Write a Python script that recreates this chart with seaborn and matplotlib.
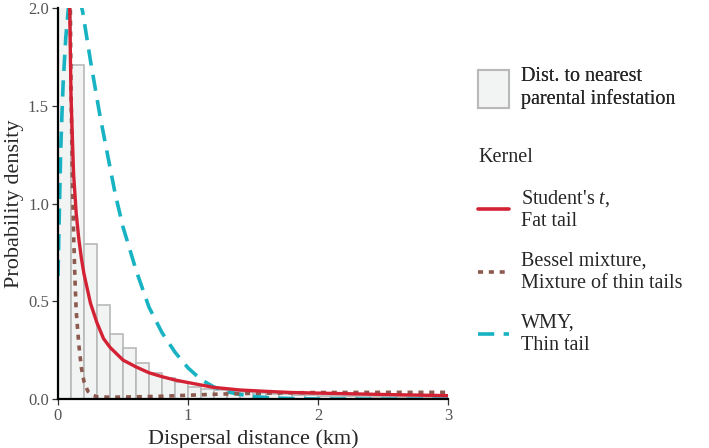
import numpy as np
import pandas as pd
import matplotlib
matplotlib.use("Agg")
import matplotlib.pyplot as plt
from matplotlib.lines import Line2D
from matplotlib.patches import Patch
import seaborn as sns

# Histogram: distance to nearest parental infestation (density per 0.1 km bin)
bin_edges = [round(0.1 * i, 1) for i in range(31)]
bin_heights = [5.3, 1.707, 0.794, 0.481, 0.332, 0.260, 0.183, 0.136, 0.106, 0.086,
               0.062, 0.052, 0.045, 0.040, 0.035, 0.031, 0.028, 0.025, 0.022, 0.020,
               0.018, 0.016, 0.015, 0.014, 0.013, 0.012, 0.011, 0.010, 0.009, 0.008]

# Kernel curves
t_x = [0.085, 0.09, 0.10, 0.12, 0.14, 0.16, 0.18, 0.20, 0.25, 0.30, 0.35, 0.40, 0.50,
       0.60, 0.70, 0.80, 0.90, 1.00, 1.20, 1.40, 1.60, 1.80, 2.00, 2.50, 3.00]
t_y = [2.4, 2.0, 1.55, 1.15, 0.95, 0.82, 0.72, 0.64, 0.49, 0.39, 0.31, 0.265, 0.20,
       0.165, 0.135, 0.115, 0.098, 0.085, 0.060, 0.047, 0.040, 0.034, 0.031, 0.024, 0.018]

bessel_x = [0.088, 0.095, 0.10, 0.11, 0.12, 0.13, 0.14, 0.16, 0.18, 0.20, 0.23, 0.27,
            0.30, 0.40, 0.60, 0.80, 1.00, 1.20, 1.50, 2.00, 2.50, 3.00]
bessel_y = [2.4, 2.0, 1.6, 1.15, 0.85, 0.62, 0.45, 0.28, 0.16, 0.09, 0.04, 0.02,
            0.012, 0.010, 0.012, 0.015, 0.020, 0.025, 0.030, 0.034, 0.035, 0.035]

wmy_x = [0.0, 0.01, 0.02, 0.03, 0.04, 0.06, 0.08, 0.10, 0.13, 0.16, 0.19, 0.25, 0.32,
         0.374, 0.44, 0.50, 0.554, 0.60, 0.70, 0.80, 0.90, 1.00, 1.10, 1.20, 1.30,
         1.40, 1.50, 1.60, 1.80, 2.00, 2.50, 3.00]
wmy_y = [0.63, 0.95, 1.25, 1.45, 1.62, 1.85, 2.0, 2.1, 2.12, 2.07, 1.98, 1.73, 1.46,
         1.274, 1.05, 0.88, 0.762, 0.66, 0.47, 0.34, 0.24, 0.16, 0.10, 0.062, 0.038,
         0.024, 0.015, 0.008, 0.003, 0.001, 0.0, 0.0]

kernel_labels = ["Student's $\\it{t}$,\nFat tail",
                 "Bessel mixture,\nMixture of thin tails",
                 "WMY,\nThin tail"]
hist_label = "Dist. to nearest\nparental infestation"

red = "#d42235"
brown = "#8c5a4f"
cyan = "#18b3c3"

sns.set_style("ticks")
plt.rcParams["font.family"] = ["Liberation Serif", "DejaVu Serif"]
plt.rcParams["mathtext.fontset"] = "custom"
plt.rcParams["mathtext.it"] = "Liberation Serif:italic"
plt.rcParams["mathtext.rm"] = "Liberation Serif"

fig = plt.figure(figsize=(7.09, 4.48), dpi=100)
ax = fig.add_axes([0.0818, 0.109, 0.632 - 0.0818, 0.873])

centers = [(bin_edges[i] + bin_edges[i + 1]) / 2 for i in range(len(bin_heights))]
sns.histplot(x=centers, weights=bin_heights, bins=bin_edges, stat="count",
             color="#f2f3f3", edgecolor="#b9b9b9", linewidth=1.2, alpha=1, ax=ax)

sns.lineplot(x=wmy_x, y=wmy_y, color=cyan, linewidth=2.6, ax=ax,
             linestyle=(0, (4.5, 2.6)))
sns.lineplot(x=bessel_x, y=bessel_y, color=brown, linewidth=2.6, ax=ax,
             linestyle=(0, (1.4, 1.6)))
sns.lineplot(x=t_x, y=t_y, color=red, linewidth=2.4, ax=ax)

ax.set_xlim(0, 3)
ax.set_ylim(0, 2)
ax.set_xticks([0, 1, 2, 3])
ax.set_yticks([0, 0.5, 1.0, 1.5, 2.0])
ax.set_yticklabels(["0.0", "0.5", "1.0", "1.5", "2.0"])
ax.tick_params(axis="both", colors="#333333", labelcolor="#555555", labelsize=12,
               length=4, width=0.9, pad=2.5)
for s in ["top", "right"]:
    ax.spines[s].set_visible(False)
for s in ["left", "bottom"]:
    ax.spines[s].set_linewidth(1.6)
    ax.spines[s].set_color("black")
ax.set_xlabel("Dispersal distance (km)", fontsize=16, labelpad=4)
ax.set_ylabel("Probability density", fontsize=16, labelpad=3)

hist_handle = [Patch(facecolor="#f2f3f3", edgecolor="#b9b9b9", linewidth=1.5)]
leg1 = fig.legend(hist_handle, [hist_label], loc="upper left",
                  bbox_to_anchor=(0.649, 0.89), frameon=False, fontsize=14.5,
                  handlelength=1.55, handleheight=2.5, handletextpad=0.55)

kernel_handles = [Line2D([], [], color=red, linewidth=2.6),
                  Line2D([], [], color=brown, linewidth=2.6, linestyle=(0, (1.4, 1.6))),
                  Line2D([], [], color=cyan, linewidth=2.6, linestyle=(0, (4.5, 2.6)))]
leg2 = fig.legend(kernel_handles, kernel_labels, loc="upper left",
                  bbox_to_anchor=(0.649, 0.71), frameon=False, fontsize=14.5,
                  title="Kernel", title_fontsize=14.5, alignment="left",
                  handlelength=1.55, handletextpad=0.55, labelspacing=1.05)
fig.add_artist(leg1)

fig.savefig("out.png", dpi=100)
